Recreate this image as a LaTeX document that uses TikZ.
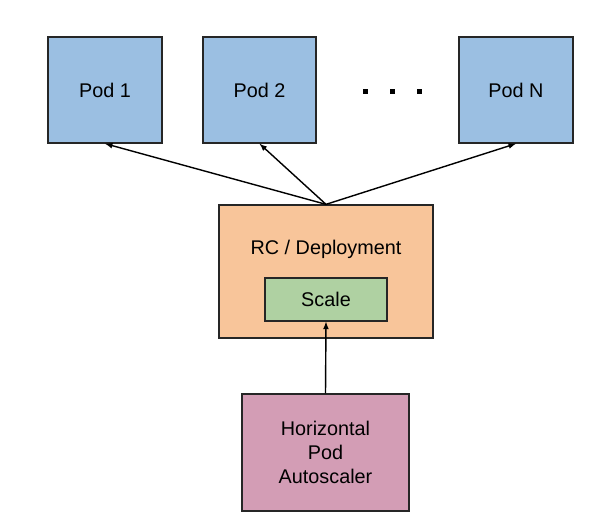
\documentclass[tikz,border=0pt]{standalone}
\usepackage{fontspec}
\setmainfont{Liberation Sans}
\usepackage{tikz}
\usetikzlibrary{arrows, positioning}
\definecolor{podblue}{HTML}{9BBFE2}
\definecolor{rcorange}{HTML}{F8C59A}
\definecolor{scalegreen}{HTML}{AFD1A2}
\definecolor{hpapurple}{HTML}{D39DB5}

\begin{document}
\begin{tikzpicture}[x=0.03cm, y=-0.03cm,
  box/.style={draw=black!85, line width=1.1pt, inner sep=0pt, align=center, font=\fontsize{16.9pt}{20.5pt}\selectfont},
  pod/.style={box, fill=podblue, minimum width=3.42cm, minimum height=3.18cm},
  dot/.style={fill=black, inner sep=0pt, minimum size=0.15cm},
  link/.style={line width=1.2pt, -latex}]
\useasboundingbox (0,0) rectangle (597,528);
% Pods
\node[pod] (pod1) at (105,90) {Pod 1};
\node[pod, minimum width=3.39cm] (pod2) at (259.5,90) {Pod 2};
\node[pod] (podN) at (516,90) {Pod N};
\node[dot] (dot1) at (365,91) {};
\node[dot] (dot2) at (392,91) {};
\node[dot] (dot3) at (419,91) {};
% Controller
\node[box, fill=rcorange, minimum width=6.42cm, minimum height=3.99cm] (rc) at (326,271.5) {};
\node[font=\fontsize{16.9pt}{20.5pt}\selectfont] (rclabel) at (326,249) {RC / Deployment};
\node[box, fill=scalegreen, minimum width=3.66cm, minimum height=1.29cm] (scale) at (326,299.5) {Scale};
% Autoscaler
\node[box, fill=hpapurple, minimum width=5.01cm, minimum height=3.51cm] (hpa) at (325.5,452.5) {Horizontal\\Pod\\Autoscaler};
% Connectors
\draw[link] (rc.north) -- (pod1.south);
\draw[link] (rc.north) -- (pod2.south);
\draw[link] (rc.north) -- (podN.south);
\draw[link] (hpa.north) -- (scale.south);
\end{tikzpicture}
\end{document}
